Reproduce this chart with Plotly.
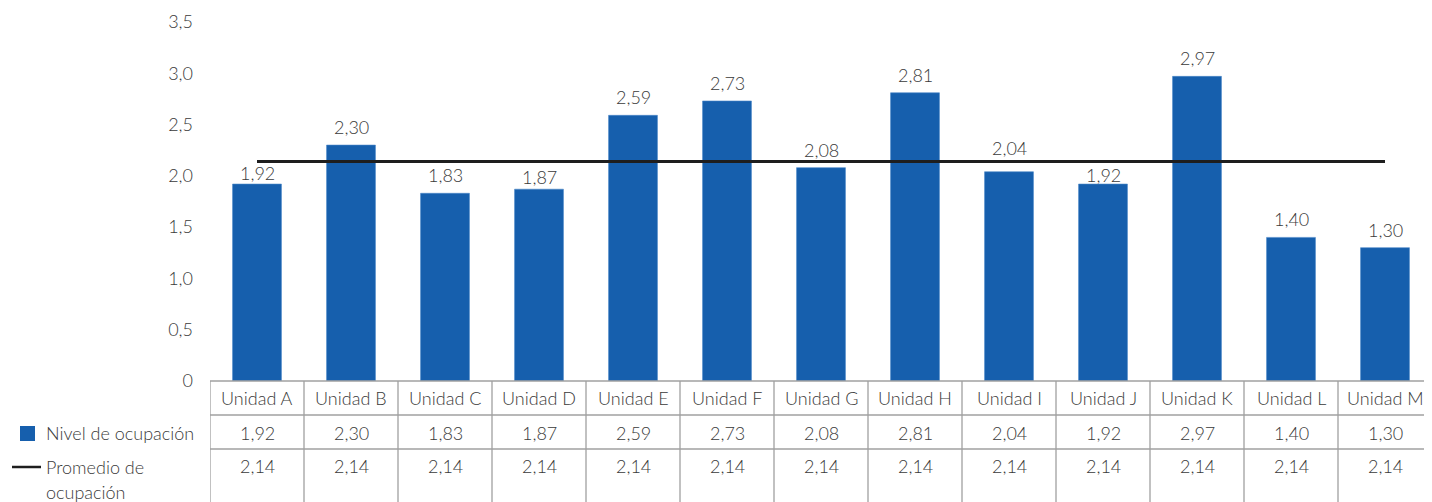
import plotly.graph_objects as go

# ======================================================
# Nivel de ocupación por unidad + tabla de datos
# ======================================================
unidades = ["Unidad A", "Unidad B", "Unidad C", "Unidad D", "Unidad E", "Unidad F", "Unidad G",
            "Unidad H", "Unidad I", "Unidad J", "Unidad K", "Unidad L", "Unidad M"]
nivel = [1.92, 2.30, 1.83, 1.87, 2.59, 2.73, 2.08, 2.81, 2.04, 1.92, 2.97, 1.40, 1.30]
promedio = [2.14] * 13
y_ticks = [0, 0.5, 1.0, 1.5, 2.0, 2.5, 3.0, 3.5]
y_ticktext = ["0", "0,5", "1,0", "1,5", "2,0", "2,5", "3,0", "3,5"]

# la pagina tiene 8px de margen en body -> compensamos
OFF = 8
W, H = 1432 - OFF, 502 - OFF
ML, MR, MT, MB = 210 - OFF, 0, 22 - OFF, 121
plot_h = H - MT - MB
plot_w = W - ML - MR

FONT = "Lato"
FS = 18
TXT = "#3a3a3a"
BLUE = "#165FAD"
GRID = "#a0a0a0"

# desplazamiento de etiquetas (px) - algunas movidas a mano para no chocar con la linea
LABEL_SHIFT = 18
LABEL_NUDGE = {0: -7, 3: -6, 8: 6, 9: -9}


def py(pix):
    # pixel y de la pagina -> paper y
    return (H - MB - (pix - OFF)) / plot_h


def px(pix):
    # pixel x de la pagina -> paper x
    return (pix - OFF - ML) / plot_w


def fmt(v):
    return f"{v:.2f}".replace(".", ",")


x_idx = list(range(len(unidades)))

fig = go.Figure()

fig.add_trace(go.Bar(
    x=x_idx, y=nivel, width=0.52,
    marker=dict(color=BLUE, line=dict(color="#4a86c8", width=0.6)),
    showlegend=False,
))

fig.add_trace(go.Scatter(
    x=x_idx, y=promedio, mode="lines",
    line=dict(color="#1e1e1e", width=3), showlegend=False,
))

shapes = []
annotations = []

# etiquetas de datos sobre las barras
for i, v in enumerate(nivel):
    annotations.append(dict(x=i, y=v, xref="x", yref="y", text=fmt(v), showarrow=False,
                            xanchor="center", yanchor="middle",
                            yshift=LABEL_SHIFT + LABEL_NUDGE.get(i, 0),
                            font=dict(family=FONT, size=FS, color=TXT, weight=300)))

# tabla: lineas
for yy in [py(381), py(415), py(449)]:
    shapes.append(dict(type="line", xref="x", yref="paper", x0=-0.5, x1=12.5, y0=yy, y1=yy,
                       line=dict(color=GRID, width=1.3)))
for i in range(len(unidades) + 1):
    shapes.append(dict(type="line", xref="x", yref="paper", x0=i - 0.5, x1=i - 0.5,
                       y0=py(381), y1=py(510), line=dict(color=GRID, width=1.3)))

# tabla: textos
for i, u in enumerate(unidades):
    for txt, pix in [(u, 398), (fmt(nivel[i]), 433), (fmt(promedio[i]), 466)]:
        annotations.append(dict(x=i, y=py(pix), xref="x", yref="paper", text=txt, showarrow=False,
                                xanchor="center", yanchor="middle",
                                font=dict(family=FONT, size=FS, color=TXT, weight=300)))

# leyenda manual
shapes.append(dict(type="rect", xref="paper", yref="paper",
                   x0=px(20), x1=px(35), y0=py(441), y1=py(426),
                   fillcolor=BLUE, line=dict(width=0)))
shapes.append(dict(type="line", xref="paper", yref="paper",
                   x0=px(12), x1=px(41), y0=py(467), y1=py(467),
                   line=dict(color="#1e1e1e", width=2.5)))
for txt, pix in [("Nivel de ocupación", 433), ("Promedio de", 467), ("ocupación", 492)]:
    annotations.append(dict(x=px(44), y=py(pix), xref="paper", yref="paper",
                            text=txt, showarrow=False, xanchor="left", yanchor="middle",
                            font=dict(family=FONT, size=FS, color=TXT, weight=300)))

fig.update_layout(
    width=W, height=H,
    margin=dict(l=ML, r=MR, t=MT, b=MB),
    plot_bgcolor="white", paper_bgcolor="white",
    separators=",.",
    xaxis=dict(range=[-0.5, 12.5], showticklabels=False, showgrid=False, zeroline=False,
               showline=False, ticks=""),
    yaxis=dict(range=[0, 3.5], tickvals=y_ticks, ticktext=y_ticktext, showgrid=False,
               zeroline=False, showline=False, ticks="", ticklabelstandoff=16,
               tickfont=dict(family=FONT, size=FS, color=TXT, weight=300)),
    shapes=shapes,
    annotations=annotations,
)

fig.write_html("out.html")
